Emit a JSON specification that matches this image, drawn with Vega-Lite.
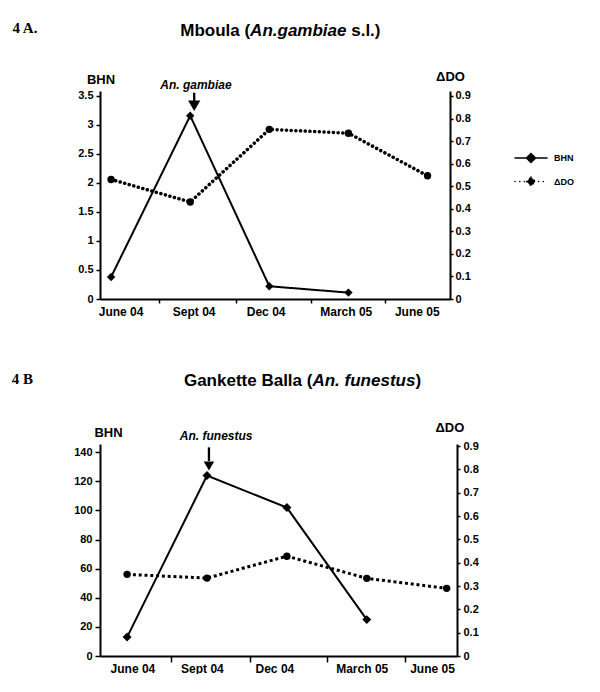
{
  "$schema": "https://vega.github.io/schema/vega-lite/v6.json",
  "background": "white",
  "padding": {"left": 11, "top": 21, "right": 0, "bottom": 0},
  "datasets": {
    "a": [
      {"month": "June 04", "t": 0, "series": "BHN", "value": 0.38},
      {"month": "Sept 04", "t": 3, "series": "BHN", "value": 3.16},
      {"month": "Dec 04", "t": 6, "series": "BHN", "value": 0.22},
      {"month": "March 05", "t": 9, "series": "BHN", "value": 0.11},
      {"month": "June 04", "t": 0, "series": "ΔDO", "value": 0.53},
      {"month": "Sept 04", "t": 3, "series": "ΔDO", "value": 0.43},
      {"month": "Dec 04", "t": 6, "series": "ΔDO", "value": 0.752},
      {"month": "March 05", "t": 9, "series": "ΔDO", "value": 0.735},
      {"month": "June 05", "t": 12, "series": "ΔDO", "value": 0.546}
    ],
    "b": [
      {"month": "June 04", "t": 0, "series": "BHN", "value": 13},
      {"month": "Sept 04", "t": 3, "series": "BHN", "value": 124},
      {"month": "Dec 04", "t": 6, "series": "BHN", "value": 102},
      {"month": "March 05", "t": 9, "series": "BHN", "value": 25},
      {"month": "June 04", "t": 0, "series": "ΔDO", "value": 0.35},
      {"month": "Sept 04", "t": 3, "series": "ΔDO", "value": 0.334},
      {"month": "Dec 04", "t": 6, "series": "ΔDO", "value": 0.428},
      {"month": "March 05", "t": 9, "series": "ΔDO", "value": 0.333},
      {"month": "June 05", "t": 12, "series": "ΔDO", "value": 0.29}
    ]
  },
  "config": {
    "view": {"stroke": null},
    "font": "Liberation Sans",
    "axis": {
      "grid": false,
      "domainColor": "black",
      "domainWidth": 2,
      "tickColor": "black",
      "tickWidth": 1.5,
      "tickCount": 30,
      "labelColor": "black",
      "labelFont": "Liberation Sans",
      "labelFontWeight": "bold",
      "labelFontSize": 11,
      "titleFont": "Liberation Sans",
      "titleFontWeight": "bold",
      "titleFontSize": 13,
      "titleColor": "black",
      "labelOverlap": false,
      "labelFlush": false
    }
  },
  "columns": 1,
  "align": "none",
  "spacing": 54,
  "resolve": {"scale": {"strokeDash": "independent"}, "legend": {"strokeDash": "independent"}},
  "concat": [
    {
      "width": 350,
      "height": 208,
      "data": {"name": "a"},
      "resolve": {"scale": {"y": "independent"}},
      "layer": [
        {
          "layer": [
            {
              "transform": [{"filter": "datum.series == 'BHN'"}],
              "mark": {"type": "line", "color": "black", "strokeWidth": 2},
              "encoding": {
                "x": {
                  "field": "t", "type": "quantitative",
                  "scale": {"domain": [-0.421, 12.852], "nice": false, "zero": false},
                  "axis": {
                    "title": null,
                    "values": [0.36, 1.8, 3.13, 4.72, 5.86, 7.57, 8.9, 10.38, 11.59],
                    "tickCount": 30,
                    "labelExpr": "datum.value == 0.36 ? 'June 04' : datum.value == 3.13 ? 'Sept 04' : datum.value == 5.86 ? 'Dec 04' : datum.value == 8.9 ? 'March 05' : datum.value == 11.59 ? 'June 05' : ''",
                    "tickOpacity": {"condition": {"test": "datum.value == 1.8 || datum.value == 4.72 || datum.value == 7.57 || datum.value == 10.38", "value": 1}, "value": 0},
                    "tickSize": 4,
                    "labelPadding": 3,
                    "labelFontSize": 12,
                    "labelOverlap": false,
                    "labelFlush": false
                  }
                },
                "y": {
                  "field": "value", "type": "quantitative",
                  "scale": {"domain": [0, 3.586], "nice": false, "zero": false},
                  "axis": {
                    "orient": "left",
                    "values": [0, 0.5, 1, 1.5, 2, 2.5, 3, 3.5],
                    "tickCount": 30,
                    "labelExpr": "'' + datum.value",
                    "labelOverlap": false,
                    "title": "BHN",
                    "titleAngle": 0,
                    "titleX": 0.5,
                    "titleY": -8,
                    "titleAlign": "center",
                    "titleBaseline": "alphabetic",
                    "tickSize": 4,
                    "labelPadding": 3
                  }
                },
                "strokeDash": {
                  "field": "series", "type": "nominal",
                  "scale": {"domain": ["BHN", "ΔDO"], "range": [[1, 0], [0.1, 4.6]]},
                  "legend": {
                    "title": null,
                    "orient": "none",
                    "legendX": 420,
                    "legendY": 56,
                    "padding": 0,
                    "symbolType": "M-1.6,0L1.6,0M0,-0.45L0.45,0L0,0.45L-0.45,0Z",
                    "symbolSize": 400,
                    "symbolStrokeColor": "black",
                    "symbolFillColor": "black",
                    "symbolStrokeWidth": 1.5,
                    "labelFont": "Liberation Sans",
                    "labelFontWeight": "bold",
                    "labelFontSize": 9,
                    "labelColor": "black",
                    "labelOffset": 12,
                    "rowPadding": 4.5,
                    "encode": {"symbols": {"update": {"fill": {"value": "black"}, "stroke": {"value": "black"}, "strokeCap": {"value": "round"}}}}
                  }
                }
              }
            },
            {
              "transform": [{"filter": "datum.series == 'BHN'"}],
              "mark": {"type": "point", "shape": "diamond", "filled": true, "color": "black", "size": 70, "opacity": 1},
              "encoding": {
                "x": {"field": "t", "type": "quantitative"},
                "y": {"field": "value", "type": "quantitative"}
              }
            },
            {
              "data": {"values": [{"label": "An. gambiae"}]},
              "mark": {"type": "text", "align": "center", "baseline": "alphabetic", "fontSize": 12, "fontWeight": "bold", "fontStyle": "italic", "color": "black"},
              "encoding": {
                "x": {"datum": 3.216, "type": "quantitative"},
                "y": {"datum": 3.62, "type": "quantitative"},
                "text": {"field": "label"}
              }
            },
            {
              "data": {"values": [{"label": "arrow"}]},
              "mark": {"type": "rule", "color": "black", "strokeWidth": 2.3},
              "encoding": {
                "x": {"datum": 3.152, "type": "quantitative"},
                "y": {"datum": 3.557, "type": "quantitative"},
                "y2": {"datum": 3.4}
              }
            },
            {
              "data": {"values": [{"label": "arrow"}]},
              "mark": {"type": "point", "shape": "triangle-down", "filled": true, "color": "black", "size": 150, "opacity": 1},
              "encoding": {
                "x": {"datum": 3.152, "type": "quantitative"},
                "y": {"datum": 3.331, "type": "quantitative"}
              }
            },
            {
              "data": {"values": [{"label": "4 A."}]},
              "mark": {"type": "text", "align": "left", "baseline": "alphabetic", "font": "Liberation Serif", "fontSize": 15, "fontWeight": "bold", "color": "black"},
              "encoding": {
                "x": {"datum": -3.743, "type": "quantitative"},
                "y": {"datum": 4.581, "type": "quantitative"},
                "text": {"field": "label"}
              }
            },
            {
              "data": {"values": [{"label": "Mboula ("}]},
              "mark": {"type": "text", "align": "left", "baseline": "alphabetic", "fontSize": 17, "fontWeight": "bold", "color": "black"},
              "encoding": {
                "x": {"datum": 2.621, "type": "quantitative"},
                "y": {"datum": 4.54, "type": "quantitative"},
                "text": {"field": "label"}
              }
            },
            {
              "data": {"values": [{"label": "An.gambiae"}]},
              "mark": {"type": "text", "align": "left", "baseline": "alphabetic", "fontSize": 17, "fontWeight": "bold", "fontStyle": "italic", "color": "black"},
              "encoding": {
                "x": {"datum": 5.272, "type": "quantitative"},
                "y": {"datum": 4.54, "type": "quantitative"},
                "text": {"field": "label"}
              }
            },
            {
              "data": {"values": [{"label": "s.l.)"}]},
              "mark": {"type": "text", "align": "left", "baseline": "alphabetic", "fontSize": 17, "fontWeight": "bold", "color": "black"},
              "encoding": {
                "x": {"datum": 9.106, "type": "quantitative"},
                "y": {"datum": 4.54, "type": "quantitative"},
                "text": {"field": "label"}
              }
            }
          ]
        },
        {
          "layer": [
            {
              "transform": [{"filter": "datum.series == 'ΔDO'"}],
              "mark": {"type": "line", "color": "black", "strokeWidth": 3.5, "strokeCap": "round"},
              "encoding": {
                "x": {"field": "t", "type": "quantitative"},
                "y": {
                  "field": "value", "type": "quantitative",
                  "scale": {"domain": [0, 0.922], "nice": false, "zero": false},
                  "axis": {
                    "orient": "right",
                    "values": [0, 0.1, 0.2, 0.3, 0.4, 0.5, 0.6, 0.7, 0.8, 0.9],
                    "tickCount": 30,
                    "labelExpr": "'' + datum.value",
                    "labelOverlap": false,
                    "title": "ΔDO",
                    "titleAngle": 0,
                    "titleX": 0,
                    "titleY": -11,
                    "titleAlign": "center",
                    "titleBaseline": "alphabetic",
                    "tickSize": 3,
                    "labelPadding": 2
                  }
                },
                "strokeDash": {"field": "series", "type": "nominal"}
              }
            },
            {
              "transform": [{"filter": "datum.series == 'ΔDO'"}],
              "mark": {"type": "point", "shape": "circle", "filled": true, "color": "black", "size": 55, "opacity": 1},
              "encoding": {
                "x": {"field": "t", "type": "quantitative"},
                "y": {"field": "value", "type": "quantitative"}
              }
            }
          ]
        }
      ]
    },
    {
      "width": 357,
      "height": 212,
      "data": {"name": "b"},
      "resolve": {"scale": {"y": "independent"}},
      "layer": [
        {
          "layer": [
            {
              "transform": [{"filter": "datum.series == 'BHN'"}],
              "mark": {"type": "line", "color": "black", "strokeWidth": 2},
              "encoding": {
                "x": {
                  "field": "t", "type": "quantitative",
                  "scale": {"domain": [-1.018, 12.388], "nice": false, "zero": false},
                  "axis": {
                    "title": null,
                    "values": [0.2, 1.66, 2.81, 4.6, 5.53, 7.52, 8.81, 10.42, 11.45],
                    "tickCount": 30,
                    "labelExpr": "datum.value == 0.2 ? 'June 04' : datum.value == 2.81 ? 'Sept 04' : datum.value == 5.53 ? 'Dec 04' : datum.value == 8.81 ? 'March 05' : datum.value == 11.45 ? 'June 05' : ''",
                    "tickOpacity": {"condition": {"test": "datum.value == 1.66 || datum.value == 4.6 || datum.value == 7.52 || datum.value == 10.42", "value": 1}, "value": 0},
                    "tickSize": 6,
                    "labelPadding": 1,
                    "labelFontSize": 12,
                    "labelOverlap": false,
                    "labelFlush": false
                  }
                },
                "y": {
                  "field": "value", "type": "quantitative",
                  "scale": {"domain": [0, 145.7], "nice": false, "zero": false},
                  "axis": {
                    "orient": "left",
                    "values": [0, 20, 40, 60, 80, 100, 120, 140],
                    "tickCount": 30,
                    "labelExpr": "'' + datum.value",
                    "labelOverlap": false,
                    "title": "BHN",
                    "titleAngle": 0,
                    "titleX": 8,
                    "titleY": -8,
                    "titleAlign": "center",
                    "titleBaseline": "alphabetic",
                    "tickSize": 5,
                    "labelPadding": 3
                  }
                }
              }
            },
            {
              "transform": [{"filter": "datum.series == 'BHN'"}],
              "mark": {"type": "point", "shape": "diamond", "filled": true, "color": "black", "size": 80, "opacity": 1},
              "encoding": {
                "x": {"field": "t", "type": "quantitative"},
                "y": {"field": "value", "type": "quantitative"}
              }
            },
            {
              "data": {"values": [{"label": "An. funestus"}]},
              "mark": {"type": "text", "align": "center", "baseline": "alphabetic", "fontSize": 12, "fontWeight": "bold", "fontStyle": "italic", "color": "black"},
              "encoding": {
                "x": {"datum": 3.343, "type": "quantitative"},
                "y": {"datum": 148.5, "type": "quantitative"},
                "text": {"field": "label"}
              }
            },
            {
              "data": {"values": [{"label": "arrow"}]},
              "mark": {"type": "rule", "color": "black", "strokeWidth": 2.3},
              "encoding": {
                "x": {"datum": 3.073, "type": "quantitative"},
                "y": {"datum": 143.4, "type": "quantitative"},
                "y2": {"datum": 134}
              }
            },
            {
              "data": {"values": [{"label": "arrow"}]},
              "mark": {"type": "point", "shape": "triangle-down", "filled": true, "color": "black", "size": 110, "opacity": 1},
              "encoding": {
                "x": {"datum": 3.073, "type": "quantitative"},
                "y": {"datum": 130.6, "type": "quantitative"}
              }
            },
            {
              "data": {"values": [{"label": "4 B"}]},
              "mark": {"type": "text", "align": "left", "baseline": "alphabetic", "font": "Liberation Serif", "fontSize": 15, "fontWeight": "bold", "color": "black"},
              "encoding": {
                "x": {"datum": -4.333, "type": "quantitative"},
                "y": {"datum": 186.9, "type": "quantitative"},
                "text": {"field": "label"}
              }
            },
            {
              "data": {"values": [{"label": "Gankette Balla ("}]},
              "mark": {"type": "text", "align": "left", "baseline": "alphabetic", "fontSize": 17, "fontWeight": "bold", "color": "black"},
              "encoding": {
                "x": {"datum": 2.134, "type": "quantitative"},
                "y": {"datum": 185.8, "type": "quantitative"},
                "text": {"field": "label"}
              }
            },
            {
              "data": {"values": [{"label": "An. funestus"}]},
              "mark": {"type": "text", "align": "left", "baseline": "alphabetic", "fontSize": 17, "fontWeight": "bold", "fontStyle": "italic", "color": "black"},
              "encoding": {
                "x": {"datum": 6.96, "type": "quantitative"},
                "y": {"datum": 185.8, "type": "quantitative"},
                "text": {"field": "label"}
              }
            },
            {
              "data": {"values": [{"label": ")"}]},
              "mark": {"type": "text", "align": "left", "baseline": "alphabetic", "fontSize": 17, "fontWeight": "bold", "color": "black"},
              "encoding": {
                "x": {"datum": 10.83, "type": "quantitative"},
                "y": {"datum": 185.8, "type": "quantitative"},
                "text": {"field": "label"}
              }
            }
          ]
        },
        {
          "layer": [
            {
              "transform": [{"filter": "datum.series == 'ΔDO'"}],
              "mark": {"type": "line", "color": "black", "strokeWidth": 3, "strokeDash": [3, 2.8]},
              "encoding": {
                "x": {"field": "t", "type": "quantitative"},
                "y": {
                  "field": "value", "type": "quantitative",
                  "scale": {"domain": [0, 0.909], "nice": false, "zero": false},
                  "axis": {
                    "orient": "right",
                    "values": [0, 0.1, 0.2, 0.3, 0.4, 0.5, 0.6, 0.7, 0.8, 0.9],
                    "tickCount": 30,
                    "labelExpr": "'' + datum.value",
                    "labelOverlap": false,
                    "title": "ΔDO",
                    "titleAngle": 0,
                    "titleX": -7.6,
                    "titleY": -13,
                    "titleAlign": "center",
                    "titleBaseline": "alphabetic",
                    "tickSize": 3,
                    "labelPadding": 3
                  }
                }
              }
            },
            {
              "transform": [{"filter": "datum.series == 'ΔDO'"}],
              "mark": {"type": "point", "shape": "circle", "filled": true, "color": "black", "size": 55, "opacity": 1},
              "encoding": {
                "x": {"field": "t", "type": "quantitative"},
                "y": {"field": "value", "type": "quantitative"}
              }
            }
          ]
        }
      ]
    }
  ]
}
